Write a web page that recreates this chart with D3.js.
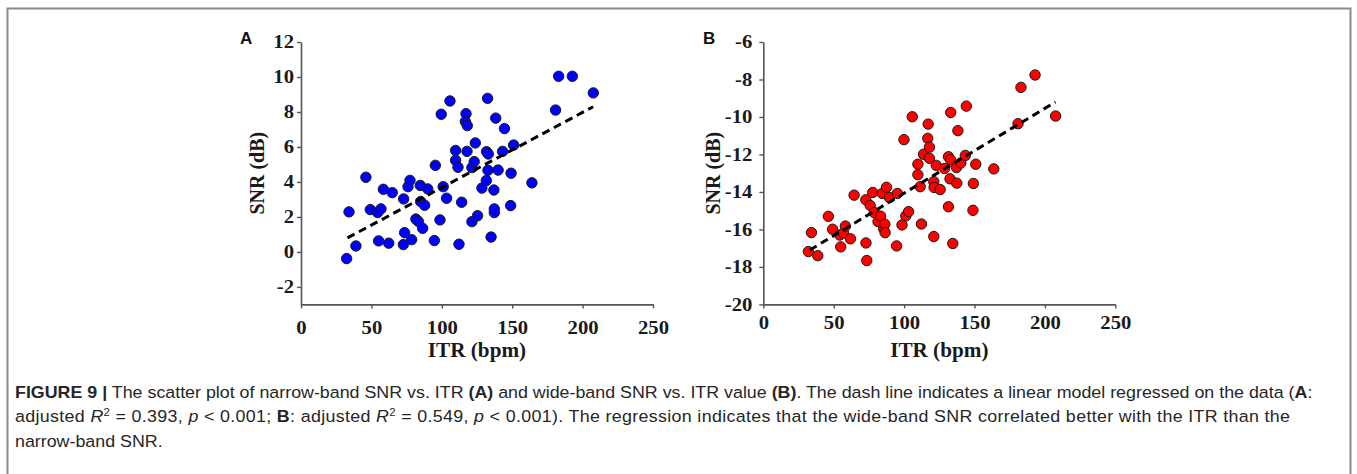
<!DOCTYPE html>
<html>
<head>
<meta charset="utf-8">
<script src="https://cdn.jsdelivr.net/npm/d3@7"></script>
<style>
  body { margin: 0; background: #fff; }
  svg { display: block; }
</style>
</head>
<body>
<script>
// Panel A: narrow-band SNR vs ITR
const itrA = [32.4, 34.1, 39, 46.1, 49.2, 54.4, 56.8, 55.1, 58.5, 62.3, 64.8, 72.7, 72.9, 73.6, 76, 77.4, 78.6,
  81.6, 83.3, 84.7, 85, 86.4, 87.8, 90, 94.7, 95.4, 98.7, 99.6, 101, 103.4, 105.8, 109.8, 109.8, 111.5, 112.2,
  114.1, 117.2, 116.7, 118.1, 117.9, 121.4, 121.4, 123, 123.8, 125.4, 128.5, 131.6, 131.8, 132.5, 132.8, 133,
  135, 137, 137.3, 137.3, 138.3, 140, 143.2, 144.5, 148.9, 149.2, 151, 164, 180.8, 183, 192.7, 207.6];
const snrA = [-0.38, 2.29, 0.34, 4.27, 2.42, 2.25, 2.46, 0.63, 3.58, 0.5, 3.39, 0.42, 3.03, 1.1, 3.73, 4.09, 0.7,
  1.88, 1.75, 3.8, 2.88, 1.35, 2.67, 3.6, 0.65, 4.95, 1.83, 7.87, 3.73, 3.07, 8.63, 5.8, 5.24, 4.84, 0.44,
  2.84, 7.9, 7.45, 7.22, 5.75, 4.82, 1.73, 5.16, 6.23, 2.07, 3.65, 4.08, 5.73, 8.78, 4.67, 5.6,
  0.85, 3.54, 2.25, 2.46, 7.65, 4.68, 5.75, 7.05, 2.65, 4.5, 6.11, 3.95, 8.11, 10.04, 10.04, 9.09];

// Panel B: wide-band SNR vs ITR
const itrB = [32, 34.2, 38.7, 46.2, 49.2, 54.3, 55, 56.9, 58.3, 61.9, 64.5, 72.8, 72.9, 73.5, 75.9, 77.7, 78.8,
  81.5, 83.3, 84.5, 85.4, 86.3, 86.5, 87.5, 89.6, 94.7, 95.2, 98.5, 99.9, 101.2, 103.2, 105.8, 109.8, 109.8,
  111.4, 112.3, 113.8, 116.8, 117.1, 118, 117.9, 121.1, 121.3, 121.1, 122.8, 125.6, 128.7, 131.5, 131.5, 132.6,
  133, 133.1, 134.6, 137.2, 137.4, 138.2, 140.3, 143.5, 144.2, 148.9, 149.2, 150.9, 163.7, 180.9, 183, 193, 207.6];
const snrB = [-17.18, -16.17, -17.4, -15.3, -15.99, -16.3, -16.93, -16.19, -15.82, -16.5, -14.17, -14.42, -16.72,
  -17.66, -14.72, -14.03, -15.1, -15.58, -15.29, -14.08, -15.95, -15.72, -16.17, -13.75, -14.3, -16.88, -14.08,
  -15.76, -11.21, -15.28, -15.05, -9.99, -12.52, -13.08, -13.72, -15.71, -11.99, -11.14, -10.38, -11.61, -12.2,
  -13.45, -13.76, -16.38, -12.58, -13.87, -12.75, -12.12, -14.79, -13.3, -12.28, -9.76, -16.75, -12.7, -13.53,
  -10.73, -12.45, -12.05, -9.42, -14.98, -13.55, -12.52, -12.77, -10.36, -8.42, -7.76, -9.95];

// regression lines (end points)
const fitItrA = [33, 207.5];
const fitSnrA = [0.8, 8.3];
const fitItrB = [33, 207.5];
const fitSnrB = [-17.1, -9.2];

const xTicks = [0, 50, 100, 150, 200, 250];
const yTicksA = [-2, 0, 2, 4, 6, 8, 10, 12];
const yTicksB = [-20, -18, -16, -14, -12, -10, -8, -6];

const W = 1357, H = 474;
const serif = "'Liberation Serif', 'Times New Roman', serif";
const sans = "'Liberation Sans', Arial, Helvetica, sans-serif";
const stretch = 1.15; // the original figure's lettering is a bit wide

const svg = d3.select('body').append('svg')
  .attr('width', W)
  .attr('height', H);

// outer frame
svg.append('rect')
  .attr('x', 7.5).attr('y', 8.5)
  .attr('width', 1343).attr('height', 480)
  .attr('fill', 'none')
  .attr('stroke', '#8a8a8a')
  .attr('stroke-width', 2);

function drawPanel(p) {
  const x = d3.scaleLinear().domain([0, 250]).range([p.left, p.left + 352]);
  const y = d3.scaleLinear().domain(p.yDomain).range([304.4, 42]);
  const fmt = d => String(d);   // plain hyphen for negatives, like the original

  const g = svg.append('g');

  const xAxis = g.append('g')
    .attr('transform', `translate(0, ${y(p.yDomain[0])})`)
    .call(d3.axisBottom(x).tickValues(xTicks).tickFormat(fmt)
      .tickSize(4).tickPadding(p.xPad).tickSizeOuter(0));

  const yAxis = g.append('g')
    .attr('transform', `translate(${x(0)}, 0)`)
    .call(d3.axisLeft(y).tickValues(p.yTicks).tickFormat(fmt)
      .tickSize(4).tickPadding(p.yPad).tickSizeOuter(0));

  [xAxis, yAxis].forEach(a => {
    a.attr('font-family', serif).attr('font-size', 18).attr('font-weight', 'bold');
    a.select('.domain').attr('stroke', '#555').attr('stroke-width', 1.6);
    a.selectAll('.tick line').attr('stroke', '#555').attr('stroke-width', 1.4);
    a.selectAll('.tick text').attr('fill', '#1a1a1a');
  });
  xAxis.selectAll('.tick text').attr('transform', `scale(${stretch},1)`);
  yAxis.selectAll('.tick text')
    .attr('x', -(4 + p.yPad) / stretch)
    .attr('transform', `scale(${stretch},1)`);

  // axis titles
  g.append('text')
    .attr('transform', `translate(${(x(0) + x(250)) / 2}, 357) scale(1.06,1)`)
    .attr('text-anchor', 'middle')
    .attr('font-family', serif)
    .attr('font-weight', 'bold')
    .attr('font-size', 20)
    .attr('fill', '#1a1a1a')
    .text('ITR (bpm)');

  g.append('text')
    .attr('transform', `translate(${p.yTitleX}, ${(y(p.yDomain[0]) + y(p.yDomain[1])) / 2}) rotate(-90)`)
    .attr('text-anchor', 'middle')
    .attr('font-family', serif)
    .attr('font-weight', 'bold')
    .attr('font-size', 20)
    .attr('fill', '#1a1a1a')
    .text('SNR (dB)');

  // panel letter
  g.append('text')
    .attr('x', p.letterX)
    .attr('y', 44)
    .attr('font-family', sans)
    .attr('font-weight', 'bold')
    .attr('font-size', 17)
    .attr('fill', '#111')
    .text(p.letter);

  // points
  g.selectAll('circle')
    .data(p.itr)
    .enter()
    .append('circle')
    .attr('cx', d => x(d))
    .attr('cy', (d, i) => y(p.snr[i]))
    .attr('r', 5.2)
    .attr('fill', p.color)
    .attr('stroke', '#1a1a1a')
    .attr('stroke-width', 1);

  // dashed regression line
  const line = d3.line()
    .x(d => x(d))
    .y((d, i) => y(p.fitSnr[i]));

  g.append('path')
    .datum(p.fitItr)
    .attr('d', line)
    .attr('fill', 'none')
    .attr('stroke', '#000')
    .attr('stroke-width', 3)
    .attr('stroke-dasharray', '8,5');
}

drawPanel({letter: 'A', letterX: 240, left: 301, yDomain: [-3, 12], yTicks: yTicksA,
  itr: itrA, snr: snrA, fitItr: fitItrA, fitSnr: fitSnrA, color: '#0000ff',
  xPad: 13, yPad: 3, yTitleX: 264});
drawPanel({letter: 'B', letterX: 703, left: 763.3, yDomain: [-20, -6], yTicks: yTicksB,
  itr: itrB, snr: snrB, fitItr: fitItrB, fitSnr: fitSnrB, color: '#ff0000',
  xPad: 8, yPad: 7, yTitleX: 720});

// caption: condensed look by squeezing the whole block horizontally
const cap = svg.append('g')
  .attr('font-family', sans)
  .attr('font-size', 16.5)
  .attr('fill', '#262626');

const line1 = cap.append('text').attr('x', 0).attr('y', 398);
line1.append('tspan').attr('font-weight', 'bold').text('FIGURE 9 |');
line1.append('tspan').text(' The scatter plot of narrow-band SNR vs. ITR ');
line1.append('tspan').attr('font-weight', 'bold').text('(A)');
line1.append('tspan').text(' and wide-band SNR vs. ITR value ');
line1.append('tspan').attr('font-weight', 'bold').text('(B)');
line1.append('tspan').text('. The dash line indicates a linear model regressed on the data (');
line1.append('tspan').attr('font-weight', 'bold').text('A');
line1.append('tspan').text(':');

const line2 = cap.append('text').attr('x', 0).attr('y', 422.5);
line2.append('tspan').text('adjusted ');
line2.append('tspan').attr('font-style', 'italic').text('R');
line2.append('tspan').attr('font-size', 10.5).attr('dy', -6).text('2');
line2.append('tspan').attr('dy', 6).text(' = 0.393, ');
line2.append('tspan').attr('font-style', 'italic').text('p');
line2.append('tspan').text(' < 0.001; ');
line2.append('tspan').attr('font-weight', 'bold').text('B');
line2.append('tspan').text(': adjusted ');
line2.append('tspan').attr('font-style', 'italic').text('R');
line2.append('tspan').attr('font-size', 10.5).attr('dy', -6).text('2');
line2.append('tspan').attr('dy', 6).text(' = 0.549, ');
line2.append('tspan').attr('font-style', 'italic').text('p');
line2.append('tspan').text(' < 0.001). The regression indicates that the wide-band SNR correlated better with the ITR than the');

cap.append('text').attr('x', 0).attr('y', 447).text('narrow-band SNR.');

const natural = line1.node().getComputedTextLength();
const k = 1298 / natural;
cap.attr('transform', `translate(15, 0) scale(${k}, 1)`);
line2.attr('textLength', 1275 / k).attr('lengthAdjust', 'spacing');
</script>
</body>
</html>
